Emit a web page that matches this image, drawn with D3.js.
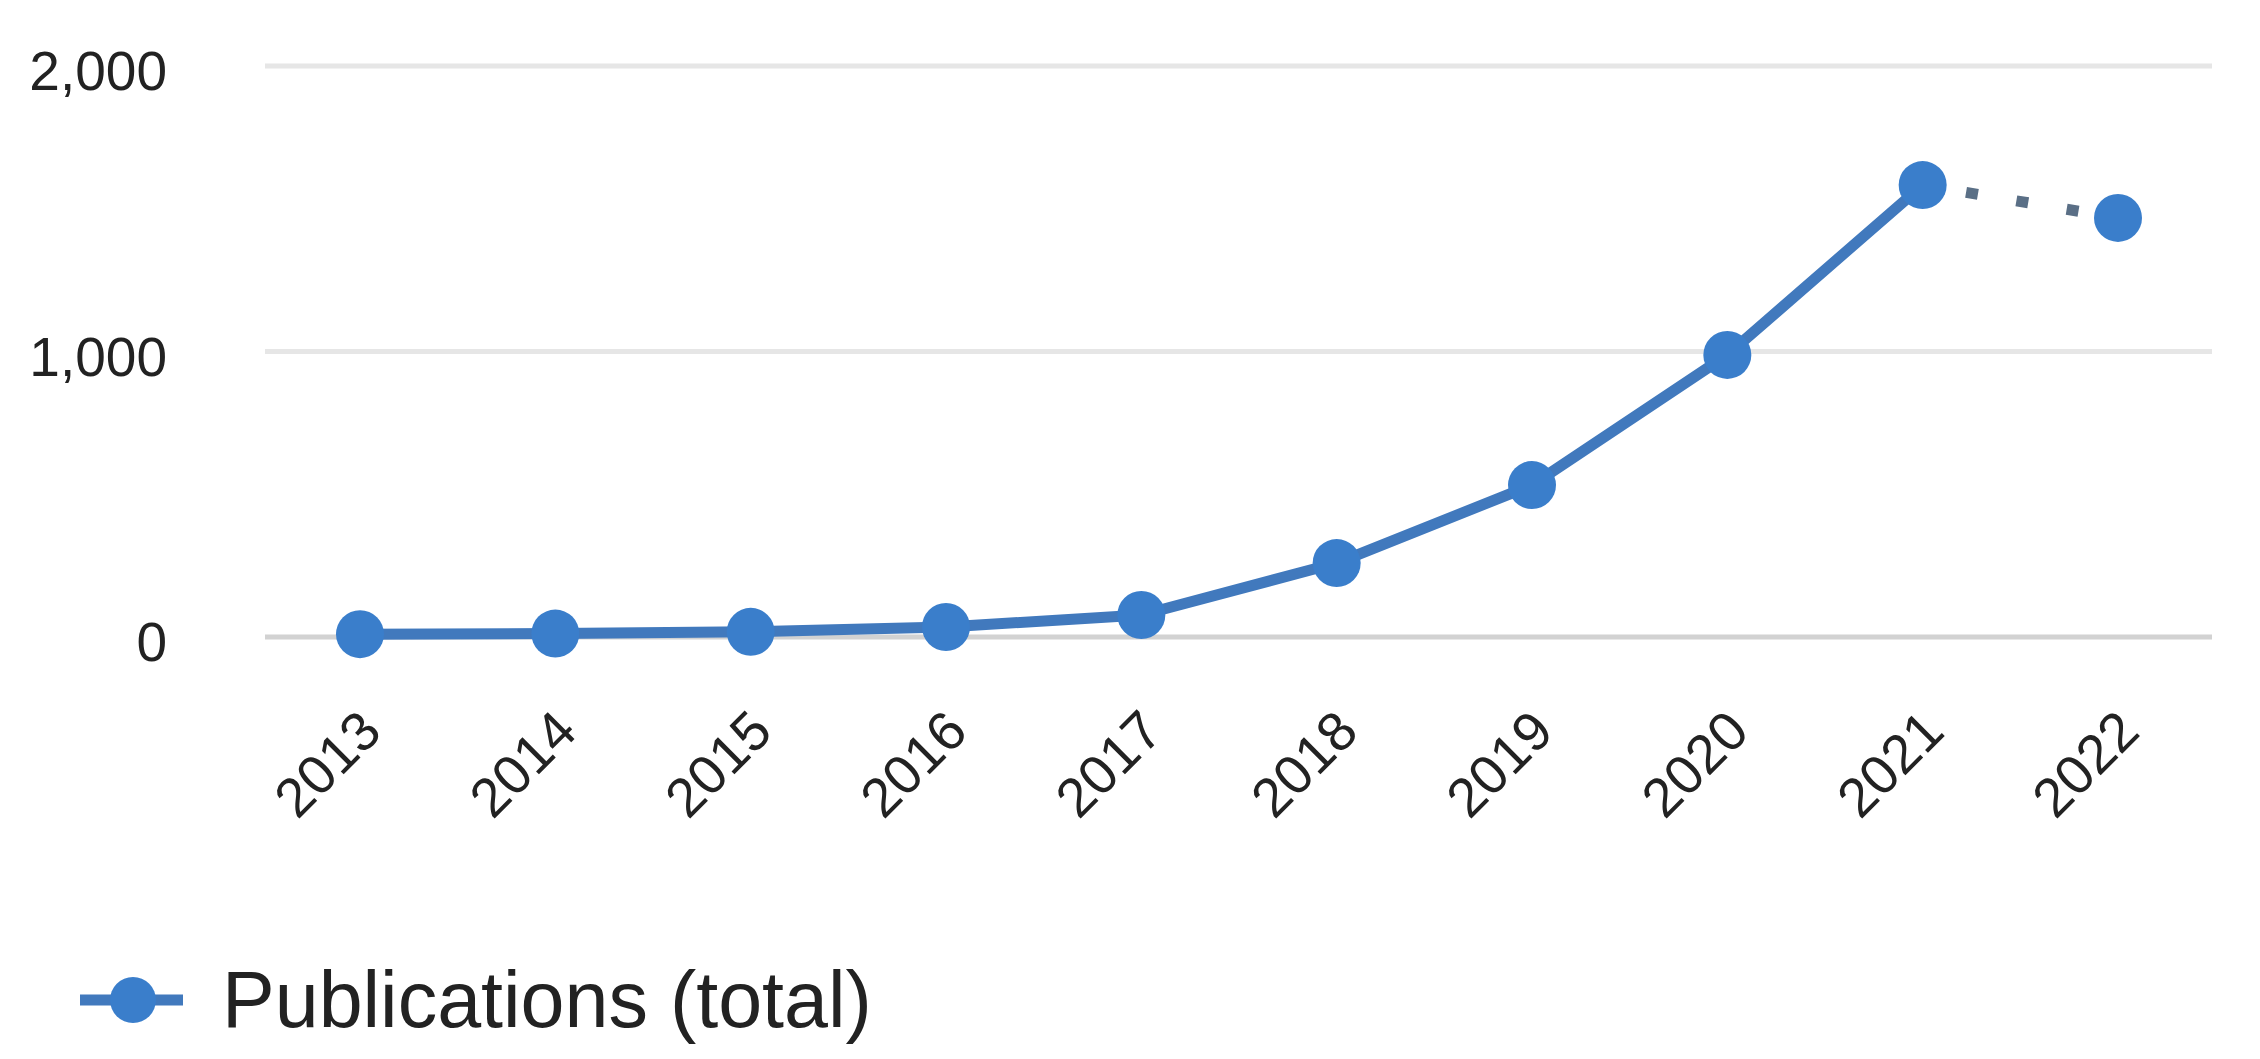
<!DOCTYPE html>
<html>
<head>
<meta charset="utf-8">
<script src="https://cdn.jsdelivr.net/npm/d3@7"></script>
<style>
  html, body { margin: 0; padding: 0; background: #fff; }
  svg { display: block; }
  text { font-family: "Liberation Sans", Arial, sans-serif; }
</style>
</head>
<body>
<svg id="chart" width="2260" height="1059"></svg>
<script>
const years = ["2013","2014","2015","2016","2017","2018","2019","2020","2021","2022"];
const publications = [10, 12, 18, 35, 77, 259, 532, 988, 1583, 1468];
const yTicks = [0, 1000, 2000];
const seriesName = "Publications (total)";
const completeCount = 9; // years up to 2021 are complete; 2022 is partial (dotted)

const W = 2260, H = 1059;
const svg = d3.select("#chart");
const blue = "#3a7ecb";
const lineBlue = "#4179bd";

const x = d3.scalePoint().domain(years).range([360, 2118]);
const y = d3.scaleLinear().domain([0, 2000]).range([637, 66]);

// gridlines
svg.append("g").selectAll("line").data(yTicks).join("line")
  .attr("x1", 265).attr("x2", 2212)
  .attr("y1", d => y(d)).attr("y2", d => y(d))
  .attr("stroke", d => d === 0 ? "#d2d2d2" : "#e6e6e6")
  .attr("stroke-width", 5);

// y axis labels
const yAxis = d3.axisLeft(y).tickValues(yTicks).tickFormat(d3.format(",")).tickSize(0).tickPadding(0);
const gy = svg.append("g").attr("transform", "translate(167,6)").call(yAxis);
gy.select(".domain").remove();
gy.selectAll("text").attr("font-size", 55).attr("fill", "#222")
  .style("font-family", '"Liberation Sans", Arial, sans-serif');

// x axis labels rotated
const xAxis = d3.axisBottom(x).tickSize(0).tickPadding(0);
const gx = svg.append("g").attr("transform", "translate(0,0)").call(xAxis);
gx.select(".domain").remove();
gx.selectAll(".tick").attr("transform", d => `translate(${x(d) + 24},734)`);
gx.selectAll("text")
  .attr("y", 0).attr("dy", 0).attr("x", 0)
  .attr("text-anchor", "end")
  .attr("transform", "rotate(-45)")
  .attr("font-size", 55).attr("fill", "#222")
  .style("font-family", '"Liberation Sans", Arial, sans-serif');

const pts = years.map((yr, i) => ({ yr, v: publications[i] }));
const line = d3.line().x(d => x(d.yr)).y(d => y(d.v));

// solid part
svg.append("path").datum(pts.slice(0, completeCount))
  .attr("d", line).attr("fill", "none")
  .attr("stroke", lineBlue).attr("stroke-width", 11)
  .attr("stroke-linejoin", "round");

// dotted part
svg.append("path").datum(pts.slice(completeCount - 1))
  .attr("d", line).attr("fill", "none")
  .attr("stroke", "#5a6f86").attr("stroke-width", 11)
  .attr("stroke-dasharray", "12 39").attr("stroke-dashoffset", 7);

// markers
svg.append("g").selectAll("circle").data(pts).join("circle")
  .attr("cx", d => x(d.yr)).attr("cy", d => y(d.v))
  .attr("r", 24).attr("fill", blue);

// legend
const lg = svg.append("g");
lg.append("line").attr("x1", 80).attr("x2", 183).attr("y1", 1000).attr("y2", 1000)
  .attr("stroke", lineBlue).attr("stroke-width", 11);
lg.append("circle").attr("cx", 133).attr("cy", 1000).attr("r", 23).attr("fill", blue);
lg.append("text").attr("x", 222).attr("y", 1027).attr("font-size", 79).attr("fill", "#222")
  .text(seriesName);
</script>
</body>
</html>
